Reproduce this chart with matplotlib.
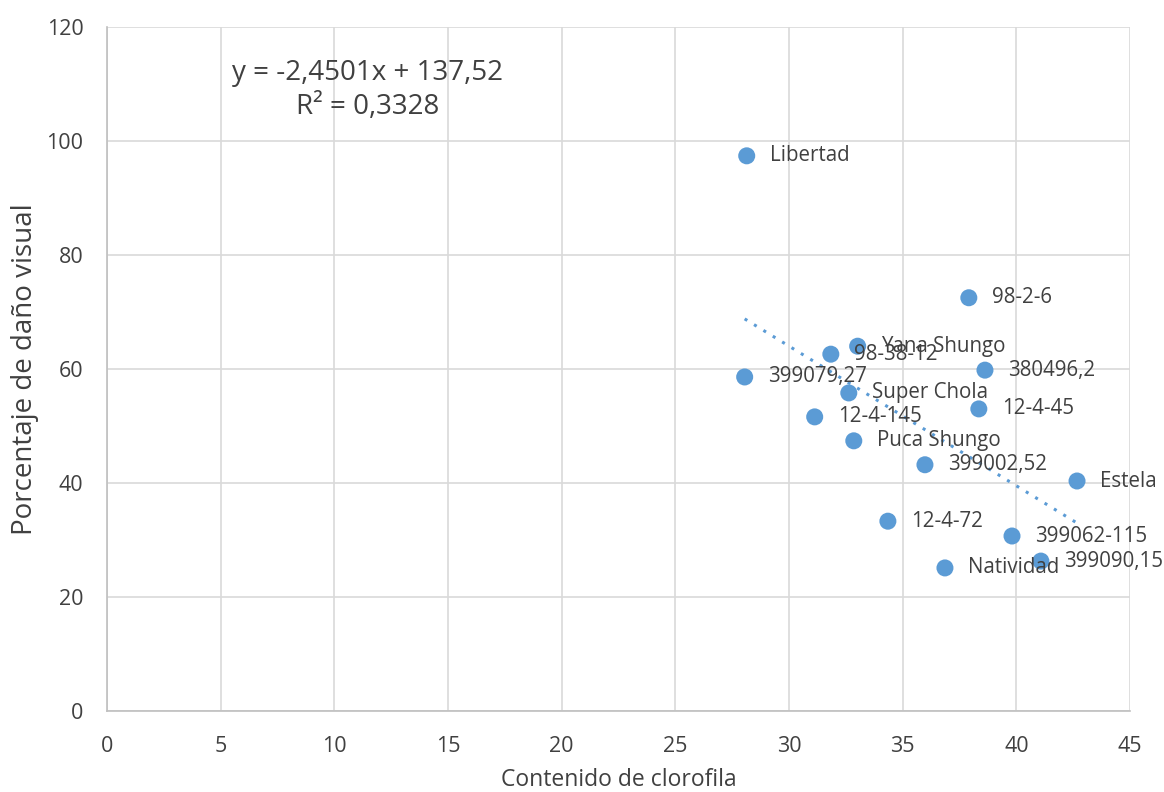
import matplotlib
matplotlib.use("Agg")
import matplotlib.pyplot as plt
import numpy as np

names = ["Libertad", "98-2-6", "Yana Shungo", "98-38-12", "380496,2", "399079,27",
         "Super Chola", "12-4-45", "12-4-145", "Puca Shungo", "399002,52", "Estela",
         "12-4-72", "399062-115", "399090,15", "Natividad"]
clorofila = [28.14, 37.91, 33.02, 31.84, 38.62, 28.05, 32.63, 38.35, 31.13, 32.85,
             35.98, 42.67, 34.35, 39.81, 41.08, 36.86]
dano = [97.4, 72.5, 64.0, 62.6, 59.8, 58.6, 55.8, 53.0, 51.6, 47.4, 43.2, 40.35,
        33.3, 30.7, 26.3, 25.1]
slope = -2.4501
intercept = 137.52
eq_text = "y = -2,4501x + 137,52\nR² = 0,3328"

xticks = [0, 5, 10, 15, 20, 25, 30, 35, 40, 45]
yticks = [0, 20, 40, 60, 80, 100, 120]

plt.rcParams['font.family'] = ['Open Sans', 'DejaVu Sans']
txt = '#404040'
col = '#5B9BD5'

fig = plt.figure(figsize=(11.64, 7.92), dpi=100)
ax = fig.add_axes([107/1164, 1-711/792, (1130-107)/1164, (711-27)/792])

ax.scatter(clorofila, dano, s=150, color=col, zorder=3, edgecolors='none')
xl = np.array([min(clorofila), max(clorofila)])
ax.plot(xl, slope*xl + intercept, linestyle=(0, (1, 2.6)), color=col, lw=2.2, zorder=2)

for n, x, y in zip(names, clorofila, dano):
    ax.annotate(n, (x, y), xytext=(23, 0), textcoords='offset pixels',
                va='center', ha='left', fontsize=14.8, color=txt, zorder=4)

ax.text(0.255, 0.908, eq_text, transform=ax.transAxes, ha='center', va='center',
        fontsize=20, color=txt, linespacing=1.3)

ax.set_xlim(0, 45)
ax.set_ylim(0, 120)
ax.set_xticks(xticks)
ax.set_yticks(yticks)
ax.grid(True, color='#D9D9D9', lw=1.2)
ax.set_axisbelow(True)
for s in ['top', 'right']:
    ax.spines[s].set_visible(False)
for s in ['left', 'bottom']:
    ax.spines[s].set_color('#BFBFBF')
    ax.spines[s].set_linewidth(1.2)
ax.tick_params(length=0, labelsize=15.5, labelcolor=txt)
ax.tick_params(axis='x', pad=18)
ax.tick_params(axis='y', pad=17)
ax.set_xlabel("Contenido de clorofila", fontsize=16.5, color=txt, labelpad=8)
ax.set_ylabel("Porcentaje de daño visual", fontsize=20, color=txt, labelpad=5)

fig.savefig("out.png", dpi=100)
